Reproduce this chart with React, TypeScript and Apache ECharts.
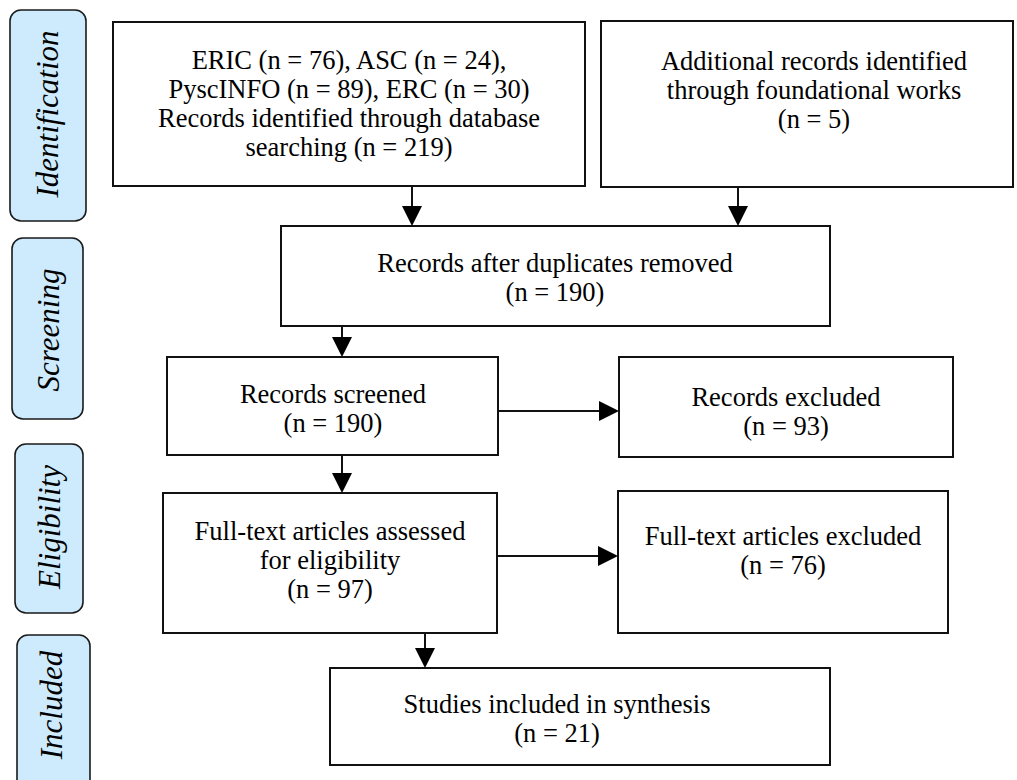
import React, { useEffect, useRef } from "react";
import * as echarts from "echarts";

// Stage labels (left column)
const stages: string[] = ["Identification", "Screening", "Eligibility", "Included"];

// Box texts (lines) and counts
const boxLabels: string[][] = [
  ["ERIC (n = 76), ASC (n = 24),", "PyscINFO (n = 89), ERC (n = 30)", "Records identified through database", "searching (n = 219)"],
  ["Additional records identified", "through foundational works", "(n = 5)"],
  ["Records after duplicates removed", "(n = 190)"],
  ["Records screened", "(n = 190)"],
  ["Records excluded", "(n = 93)"],
  ["Full-text articles assessed", "for eligibility", "(n = 97)"],
  ["Full-text articles excluded", "(n = 76)"],
  ["Studies included in synthesis", "(n = 21)"],
];

// layout (positions/sizes)
const stageRects = [
  [10, 10, 76, 211],
  [12, 238, 71, 181],
  [15, 444, 68, 169],
  [17, 635, 73, 170],
];
const boxRects = [
  [113, 22, 472, 164],
  [601, 21, 412, 166],
  [281, 226, 549, 100],
  [167, 357, 331, 98],
  [619, 357, 334, 100],
  [163, 493, 334, 140],
  [618, 491, 330, 142],
  [330, 668, 500, 97],
];
// text anchor: [cx, cy] (center of text block)
const textCenters = [
  [349, 103],
  [814, 90],
  [555, 277],
  [333, 408],
  [786, 411],
  [330, 560],
  [783, 550],
  [557, 718],
];
const stageTextCenters = [
  [47, 114],
  [48, 330],
  [49, 527],
  [51, 705],
];
// arrows: [x1,y1,x2,y2]
const arrows = [
  [412, 186, 412, 226],
  [738, 187, 738, 226],
  [342, 326, 342, 357],
  [498, 411, 619, 411],
  [342, 455, 342, 493],
  [497, 556, 618, 556],
  [425, 633, 425, 668],
];

export default function App() {
  const ref = useRef<HTMLDivElement>(null);
  useEffect(() => {
    if (!ref.current) return;
    const chart = echarts.init(ref.current, undefined, { renderer: "svg" });
    const elements: any[] = [];

    stageRects.forEach((r, i) => {
      elements.push({
        type: "rect",
        shape: { x: r[0], y: r[1], width: r[2], height: r[3], r: 11 },
        style: { fill: "#cdebfd", stroke: "#1a1a1a", lineWidth: 1.6 },
      });
      const c = stageTextCenters[i];
      elements.push({
        type: "text",
        x: c[0],
        y: c[1],
        rotation: Math.PI / 2,
        style: {
          text: stages[i],
          font: "italic 31px 'Liberation Serif', 'Times New Roman', serif",
          fill: "#000",
          align: "center",
          verticalAlign: "middle",
          textAlign: "center",
          textVerticalAlign: "middle",
        },
      });
    });

    boxRects.forEach((r, i) => {
      elements.push({
        type: "rect",
        shape: { x: r[0], y: r[1], width: r[2], height: r[3] },
        style: { fill: "#fff", stroke: "#111", lineWidth: 2 },
      });
      const c = textCenters[i];
      elements.push({
        type: "text",
        x: c[0],
        y: c[1],
        style: {
          text: boxLabels[i].join("\n"),
          font: "26.5px 'Liberation Serif', 'Times New Roman', serif",
          lineHeight: 29,
          fill: "#000",
          align: "center",
          verticalAlign: "middle",
          textAlign: "center",
          textVerticalAlign: "middle",
        },
      });
    });

    arrows.forEach((a) => {
      const [x1, y1, x2, y2] = a;
      const vertical = x1 === x2;
      const head = 20;
      const half = 10;
      let pts: number[][];
      let lx2 = x2, ly2 = y2;
      if (vertical) {
        pts = [[x2 - half, y2 - head], [x2 + half, y2 - head], [x2, y2]];
        ly2 = y2 - head + 1;
      } else {
        pts = [[x2 - head, y2 - half], [x2 - head, y2 + half], [x2, y2]];
        lx2 = x2 - head + 1;
      }
      elements.push({
        type: "line",
        shape: { x1, y1, x2: lx2, y2: ly2 },
        style: { stroke: "#111", lineWidth: 2 },
      });
      elements.push({
        type: "polygon",
        shape: { points: pts },
        style: { fill: "#000" },
      });
    });

    chart.setOption({
      animation: false,
      backgroundColor: "#fff",
      graphic: { elements },
    });
    return () => chart.dispose();
  }, []);
  return (
    <div
      ref={ref}
      style={{ position: "fixed", left: 0, top: 0, width: 1017, height: 780 }}
    />
  );
}
